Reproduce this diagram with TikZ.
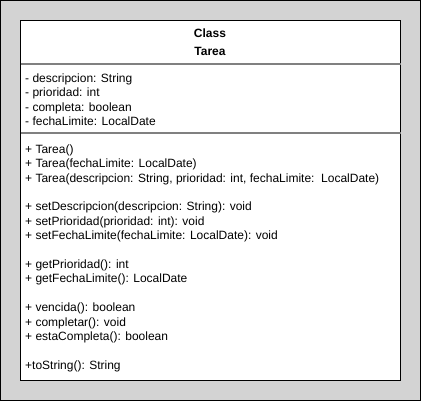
\documentclass[tikz,border=0pt]{standalone}
\usepackage{fontspec}
\setmainfont{Liberation Sans}
\usetikzlibrary{positioning}
\definecolor{pagegray}{RGB}{211,211,211}
\definecolor{sepgray}{RGB}{128,128,128}

\begin{document}
\begin{tikzpicture}[x=1pt, y=-1pt,
  umltext/.style={font=\fontsize{12}{14.4}\selectfont, align=left,
                  anchor=north west, inner sep=0pt},
  umltitle/.style={font=\bfseries\fontsize{12}{18}\selectfont, align=center,
                   anchor=north, inner sep=0pt},
  umlbox/.style={draw=black, fill=white, line width=1pt},
  sepline/.style={draw=sepgray, line width=2pt},
]
\useasboundingbox (0,0) rectangle (421,401);

%% BACKGROUND
\draw[fill=pagegray, line width=1pt] (0.5,0.5) rectangle (420.5,400.5);

%% CLASS BOX
\draw[umlbox] (20.5,20.5) coordinate (boxtl) rectangle (400.5,380.5) coordinate (boxbr);

\node[umltitle] (title) at (210,28.5) {Class\\Tarea};

\coordinate (sep1l) at (20.5,64);
\coordinate (sep1r) at (400.5,64);
\coordinate (sep2l) at (20.5,133);
\coordinate (sep2r) at (400.5,133);

\node[umltext] (attrs) at (25,73.5) {%
- descripcion: String\\
- prioridad: int\\
- completa: boolean\\
- fechaLimite: LocalDate};

\node[umltext] (methods) at (25,144.5) {%
+ Tarea()\\
+ Tarea(fechaLimite: LocalDate)\\
+ Tarea(descripcion: String, prioridad: int, fechaLimite:\ \ LocalDate)\\[14.4pt]
+ setDescripcion(descripcion: String): void\\
+ setPrioridad(prioridad: int): void\\
+ setFechaLimite(fechaLimite: LocalDate): void\\[14.4pt]
+ getPrioridad(): int\\
+ getFechaLimite(): LocalDate\\[14.4pt]
+ vencida(): boolean\\
+ completar(): void\\
+ estaCompleta(): boolean\\[14.4pt]
+toString(): String};

%% SEPARATORS
\draw[sepline] (sep1l) -- (sep1r);
\draw[sepline] (sep2l) -- (sep2r);
\end{tikzpicture}
\end{document}
